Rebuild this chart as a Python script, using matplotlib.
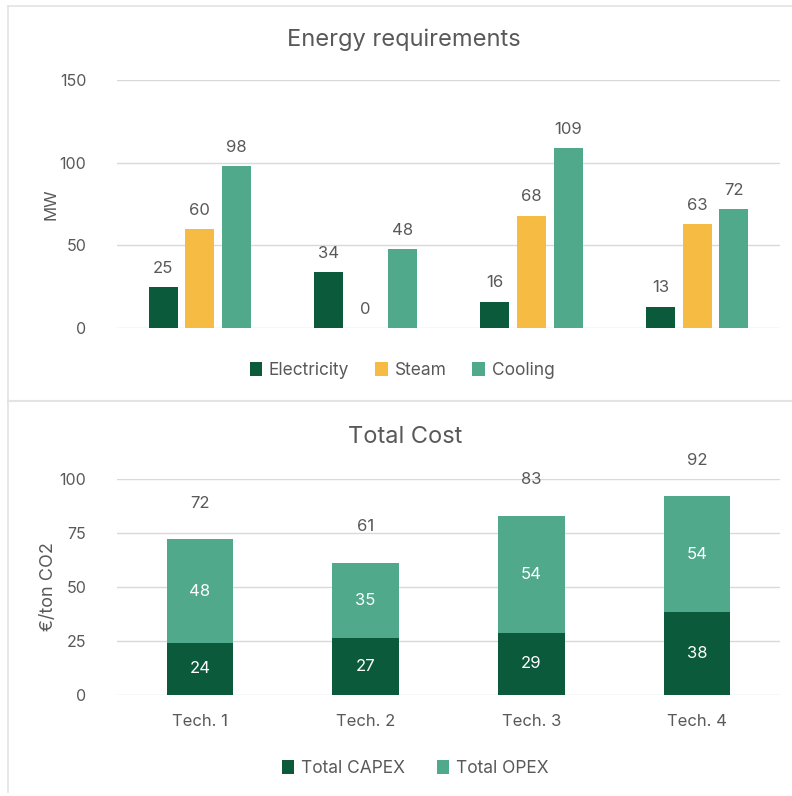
import numpy as np
import matplotlib.pyplot as plt

# data
techs = ["Tech. 1", "Tech. 2", "Tech. 3", "Tech. 4"]
electricity = [25, 34, 16, 13]
steam = [60, 0, 68, 63]
cooling = [98, 48, 109, 72]
capex = [24.2, 26.6, 28.8, 38.3]
opex = [47.8, 34.6, 54.2, 53.7]

dark = "#0a5a3b"
yellow = "#f5bb42"
teal = "#4fa98a"
txt = "#595959"
grid = "#d9d9d9"

plt.rcParams['font.family'] = ['Inter', 'DejaVu Sans']

fig = plt.figure(figsize=(7.92, 7.96), dpi=100)

# panel frames
fig.add_artist(plt.Line2D([8/792, 8/792], [1-6/796, 1-792/796], color="#e3e3e3", lw=1.2))
fig.add_artist(plt.Line2D([8/792, 1], [1-6/796, 1-6/796], color="#e3e3e3", lw=1.2))
fig.add_artist(plt.Line2D([8/792, 1], [1-401/796, 1-401/796], color="#e3e3e3", lw=1.5))

def style(ax, ticks):
    for s in ax.spines.values():
        s.set_visible(False)
    ax.set_yticks(ticks)
    ax.tick_params(axis='y', length=0, labelsize=11.5, labelcolor=txt, pad=22)
    ax.tick_params(axis='x', length=0, labelsize=12, labelcolor=txt, pad=14)
    ax.yaxis.grid(True, color=grid, lw=1)
    ax.set_axisbelow(True)

# energy requirements
ax1 = fig.add_axes([117/792, 1-328/796, 663/792, 248/796])
x = np.arange(len(techs))
w = 0.175
step = 0.222
for off, vals, col, lab in [(-step, electricity, dark, "Electricity"),
                            (0, steam, yellow, "Steam"),
                            (step, cooling, teal, "Cooling")]:
    b = ax1.bar(x + off, vals, w, color=col, label=lab)
    ax1.bar_label(b, padding=8, fontsize=12, color=txt)
ax1.set_xlim(-0.5, 3.5)
ax1.set_ylim(0, 150)
style(ax1, [0, 50, 100, 150])
ax1.set_xticks([])
ax1.set_ylabel("MW", fontsize=12, color=txt, labelpad=1)
ax1.legend(loc='center', bbox_to_anchor=(0.43, -0.17), ncol=3, frameon=False,
           fontsize=12.5, labelcolor=txt, handlelength=0.7, handleheight=0.9,
           handletextpad=0.4, columnspacing=1.5)
fig.text(404/792, 1-40/796, "Energy requirements", ha='center', va='center',
         fontsize=17, color=txt)

# total cost
ax2 = fig.add_axes([117/792, 1-695/796, 663/792, 216/796])
bw = 0.4
b1 = ax2.bar(x, capex, bw, color=dark, label="Total CAPEX")
b2 = ax2.bar(x, opex, bw, bottom=capex, color=teal, label="Total OPEX")
ax2.bar_label(b1, label_type='center', fmt='%.0f', fontsize=12, color="white")
ax2.bar_label(b2, label_type='center', fmt='%.0f', fontsize=12, color="white")
totals = [c + o for c, o in zip(capex, opex)]
for xi, t in zip(x, totals):
    ax2.annotate(f"{t:.0f}", (xi, t), xytext=(0, 26), textcoords='offset points',
                 ha='center', va='center', fontsize=12, color=txt)
ax2.set_xlim(-0.5, 3.5)
ax2.set_ylim(0, 100)
style(ax2, [0, 25, 50, 75, 100])
ax2.set_xticks(x)
ax2.set_xticklabels(techs)
ax2.set_ylabel("€/ton CO2", fontsize=13, color=txt, labelpad=2)
ax2.legend(loc='center', bbox_to_anchor=(0.45, -0.34), ncol=2, frameon=False,
           fontsize=12.5, labelcolor=txt, handlelength=0.7, handleheight=0.9,
           handletextpad=0.4, columnspacing=1.8)
fig.text(405/792, 1-437/796, "Total Cost", ha='center', va='center',
         fontsize=17, color=txt)

fig.savefig("out.png", dpi=100, facecolor="white")
